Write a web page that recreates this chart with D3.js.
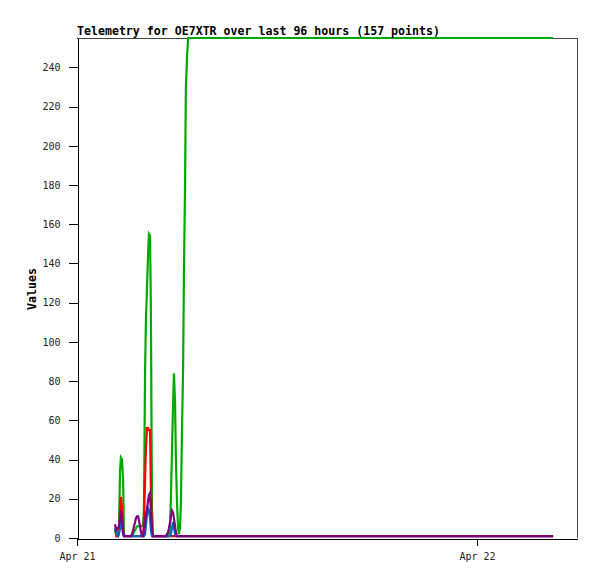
<!DOCTYPE html>
<html>
<head>
<meta charset="utf-8">
<script src="https://cdn.jsdelivr.net/npm/d3@7"></script>
<style>
html,body{margin:0;padding:0;background:#fff;}
svg{display:block;}
text{font-family:"DejaVu Sans Mono","Liberation Mono",monospace;}
</style>
</head>
<body>
<svg id="chart" width="597" height="579"></svg>
<script>
// minutes after Apr 21 00:00 for each sample
const minutes = [
  137,140,144,148,151,155,158,162,166,169,
  173,176,180,184,187,191,194,198,202,205,
  209,212,216,220,223,227,230,234,238,241,
  245,248,252,256,259,263,266,270,274,277,
  281,284,288,292,295,299,302,306,310,313,
  317,320,324,328,331,335,338,342,346,349,
  353,356,360,364,367,371,374,378,382,385,
  389,392,396,400,403,407,
  623,875,1163,1440,1714
];
const greenValues = [
  4,2,3,4,5,34,41,40,30,2,
  1,1,1,1,1,1,1,1,2,3,
  4,5,6,6,6,6,6,6,7,15,
  84,110,128,145,155,154,116,15,1,1,
  1,1,1,1,1,1,1,1,1,1,
  1,1,1,1,2,5,20,45,69,84,
  69,40,18,5,2,5,18,55,87,135,
  180,230,245,255,255,255,
  255,255,255,255,255
];
const redValues = [
  1,1,1,1,3,13,21,15,3,1,
  1,1,1,1,1,1,1,1,1,1,
  1,1,1,1,1,1,1,1,1,8,
  30,45,56,56,55,55,25,2,1,1,
  1,1,1,1,1,1,1,1,1,1,
  1,1,1,1,1,1,1,1,1,1,
  1,1,1,1,1,1,1,1,1,1,
  1,1,1,1,1,1,
  1,1,1,1,1
];
const blueValues = [
  5,3,2,1,2,5,10,6,2,1,
  1,1,1,1,1,1,1,1,1,1,
  1,1,1,1,1,1,1,1,1,1,
  2,6,12,15,14,10,4,1,1,1,
  1,1,1,1,1,1,1,1,1,1,
  1,1,1,1,1,1,2,5,8,6,
  2,1,1,1,1,1,1,1,1,1,
  1,1,1,1,1,1,
  1,1,1,1,1
];
const purpleValues = [
  7,4,5,5,6,10,14,9,3,1,
  1,1,1,1,1,1,1,2,4,6,
  8,10,11,11,9,6,3,1,1,4,
  8,12,15,19,22,23,14,4,1,1,
  1,1,1,1,1,1,1,1,1,1,
  1,1,2,3,5,8,11,14,13,10,
  6,3,1,1,1,1,1,1,1,1,
  1,1,1,1,1,1,
  1,1,1,1,1
];
const seriesNames = ["green","red","blue","purple"];
const seriesColors = ["#00aa00","#ff0000","#0066cc","#800080"];
const yTicks = [0,20,40,60,80,100,120,140,160,180,200,220,240];
const xTickLabels = ["Apr 21","Apr 22"];
const xTickMinutes = [0,1440];
const xDomainMinutes = [0,1800];
const yDomain = [0,255];
const titleText = "Telemetry for OE7XTR over last 96 hours (157 points)";
const yTitle = "Values";

const base = new Date(2024,3,21,0,0,0);
const toDate = m => new Date(base.getTime() + m*60000);

const svg = d3.select("#chart");
const L = 77, R = 577, T = 38, B = 538;

const x = d3.scaleTime().domain(xDomainMinutes.map(toDate)).range([L,R]);
const y = d3.scaleLinear().domain(yDomain).range([B,T]);

svg.append("rect").attr("width",597).attr("height",579).attr("fill","#fff");

// top/right frame
svg.append("path")
  .attr("d",`M${L},${T+0.5}H${R+0.5}V${B}`)
  .attr("fill","none").attr("stroke","#444").attr("stroke-width",1)
  .attr("shape-rendering","crispEdges");

const allSeries = [greenValues,redValues,blueValues,purpleValues];
const line = d3.line().x(d=>x(d.t)).y(d=>y(d.v));
allSeries.forEach((vals,i)=>{
  const data = minutes.map((m,j)=>({t:toDate(m),v:vals[j]}));
  svg.append("path")
    .datum(data)
    .attr("class","series-"+seriesNames[i])
    .attr("d",line)
    .attr("fill","none")
    .attr("stroke",seriesColors[i])
    .attr("stroke-width",2.2)
    .attr("stroke-linejoin","miter");
});

// Y axis
const yAxis = d3.axisLeft(y).tickValues(yTicks).tickSize(9).tickPadding(8).tickSizeOuter(0);
const gy = svg.append("g").attr("transform",`translate(${L+0.5},0)`).call(yAxis);
gy.select(".domain").attr("stroke","#000").attr("shape-rendering","crispEdges");
gy.selectAll(".tick line").attr("stroke","#000").attr("shape-rendering","crispEdges");
gy.selectAll(".tick text").attr("font-size","10px").attr("fill","#222")
  .attr("font-family","DejaVu Sans Mono, monospace");

// X axis
const xAxis = d3.axisBottom(x).tickValues(xTickMinutes.map(toDate))
  .tickFormat((d,i)=>xTickLabels[i]).tickSize(7).tickPadding(7).tickSizeOuter(0);
const gx = svg.append("g").attr("transform",`translate(0,${B+0.5})`).call(xAxis);
gx.select(".domain").attr("stroke","#000").attr("shape-rendering","crispEdges");
gx.selectAll(".tick line").attr("stroke","#000").attr("shape-rendering","crispEdges");
gx.selectAll(".tick text").attr("font-size","10px").attr("fill","#222")
  .attr("font-family","DejaVu Sans Mono, monospace");

// Title
svg.append("text").attr("x",L).attr("y",35)
  .attr("font-size","11.6px").attr("font-weight","bold").attr("fill","#000")
  .text(titleText);

// Y title
svg.append("text")
  .attr("transform",`translate(36,289) rotate(-90)`)
  .attr("text-anchor","middle")
  .attr("font-size","11.6px").attr("font-weight","bold").attr("fill","#000")
  .text(yTitle);
</script>
</body>
</html>
